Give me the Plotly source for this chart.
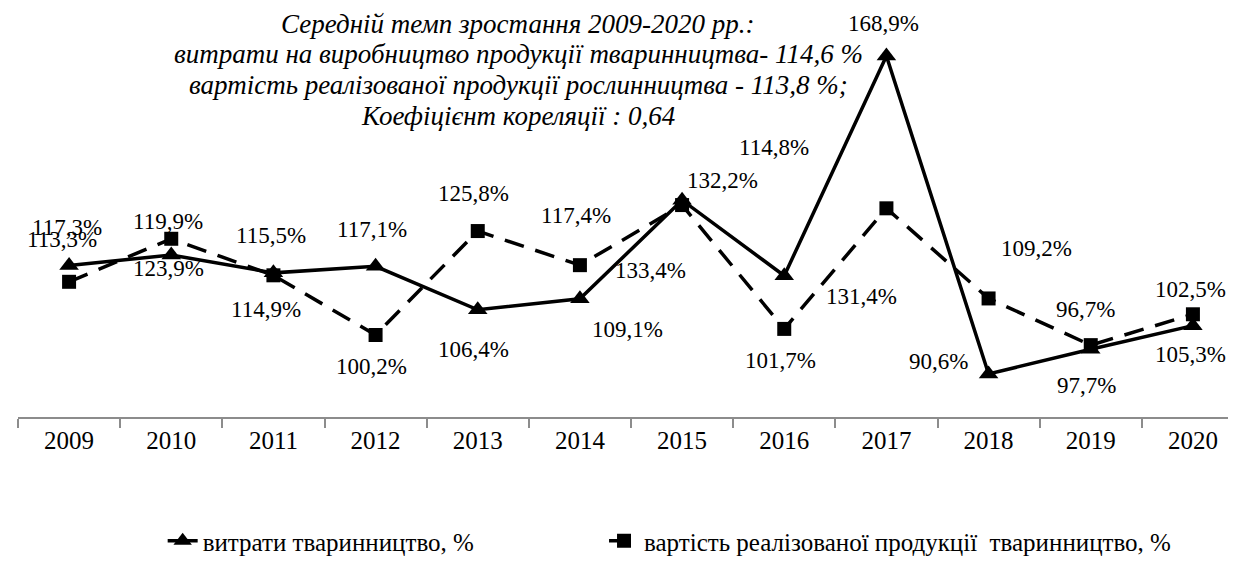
import plotly.graph_objects as go

years = ["2009", "2010", "2011", "2012", "2013", "2014", "2015", "2016", "2017", "2018", "2019", "2020"]
costs = [117.3, 119.9, 115.5, 117.1, 106.4, 109.1, 133.4, 114.8, 168.9, 90.6, 96.7, 102.5]
sales = [113.3, 123.9, 114.9, 100.2, 125.8, 117.4, 132.2, 101.7, 131.4, 109.2, 97.7, 105.3]

name_costs = "витрати тваринництво, %"
name_sales = "вартість реалізованої продукції  тваринництво, %"

title_lines = [
    "Середній темп зростання 2009-2020 рр.:",
    "витрати на виробництво продукції тваринництва- 114,6 %",
    "вартість реалізованої продукції рослинництва - 113,8 %;",
    "Коефіцієнт кореляції : 0,64",
]

# label offsets in px (xshift, yshift)
costs_off = [(-2, 38), (-3, 34), (-2, 37), (-4, 37), (-4, -40), (48, -31), (-32, -70),
             (-10, 128), (-3, 33), (-50, 12), (-5, 40), (-2, 36)]
sales_off = [(-7, 42), (-3, -30), (-7, -34), (-4, -32), (-4, 38), (-4, 50), (40, 25),
             (-4, -32), (-25, -88), (48, 50), (-4, -40), (-2, -40)]

FONT = "Liberation Serif"

fig = go.Figure()
fig.add_trace(go.Scatter(
    x=years, y=costs, name=name_costs, mode="lines+markers",
    line=dict(color="black", width=3.5),
    marker=dict(symbol="triangle-up", size=17, color="black"),
    legend="legend",
))
fig.add_trace(go.Scatter(
    x=years, y=sales, name=name_sales, mode="lines+markers",
    line=dict(color="black", width=3.5, dash="20px,12px"),
    marker=dict(symbol="square", size=14, color="black"),
    legend="legend2",
))

def fmt(v):
    return f"{v:.1f}".replace(".", ",") + "%"

for vals, offs in ((costs, costs_off), (sales, sales_off)):
    for i, (v, (dx, dy)) in enumerate(zip(vals, offs)):
        fig.add_annotation(x=i, y=v, text=fmt(v), showarrow=False,
                           xshift=dx, yshift=dy,
                           font=dict(family=FONT, size=23, color="black"))

title_y = [16, 46, 77, 108]
for line, ty in zip(title_lines, title_y):
    fig.add_annotation(xref="paper", yref="paper", x=(510 - 10) / 1226, y=1 - (ty - 3) / 406,
                       text="<i>" + line + "</i>", showarrow=False,
                       xanchor="center", yanchor="middle",
                       font=dict(family=FONT, size=27, color="black"))

leg_y = (409 - 533) / 406
fig.update_layout(
    width=1236, height=569,
    margin=dict(l=10, r=0, t=3, b=160, autoexpand=False),
    paper_bgcolor="white", plot_bgcolor="white",
    showlegend=True,
    legend=dict(orientation="h", x=0.118, xanchor="left", y=leg_y, yanchor="middle",
                font=dict(family=FONT, size=25, color="black")),
    legend2=dict(orientation="h", x=0.478, xanchor="left", y=leg_y, yanchor="middle",
                 font=dict(family=FONT, size=25, color="black")),
    font=dict(family=FONT, color="black"),
)
fig.update_xaxes(
    type="category", range=[-0.5, 11.5],
    showline=True, linecolor="#8c8c8c", linewidth=1.5,
    ticks="outside", tickson="boundaries", ticklen=9, tickcolor="#8c8c8c", tickwidth=1.5,
    tickfont=dict(family=FONT, size=25, color="black"),
    showgrid=False, zeroline=False, fixedrange=True,
)
fig.update_yaxes(range=[80, 180], visible=False, showgrid=False, zeroline=False)

fig.write_html("out.html")
